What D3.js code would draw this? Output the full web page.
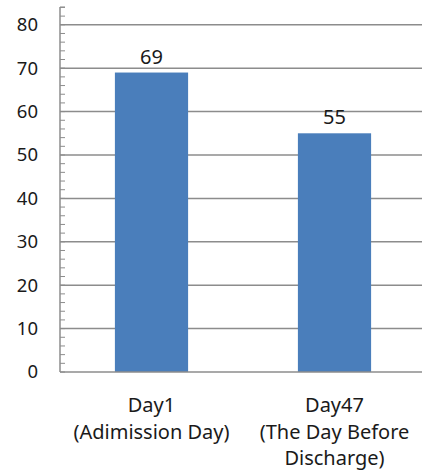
<!DOCTYPE html>
<html><head><meta charset="utf-8">
<script src="https://cdn.jsdelivr.net/npm/d3@7"></script>
<style>body{margin:0;background:#fff;} text{font-family:"Noto Sans","Open Sans",sans-serif;fill:#1a1a1a;}</style>
</head><body>
<svg id="c" width="422" height="472"></svg>
<script>
const categories = [["Day1","(Adimission Day)"],["Day47","(The Day Before","Discharge)"]];
const values = [69, 55];
const yTicks = [0,10,20,30,40,50,60,70,80];
const minorTicks = d3.range(0, 85, 2);

(function(){
const svg = d3.select("#c");
const pLeft = 60, pRight = 426, pTop = 7, pBottom = 372;
const y = d3.scaleLinear().domain([0, 84.1]).range([pBottom, pTop]);
const x = d3.scaleBand().domain(d3.range(values.length)).range([pLeft, pRight]).paddingInner(0.6).paddingOuter(0.3);

svg.append("g").selectAll("line").data(yTicks.filter(d=>d>0)).join("line")
  .attr("x1", pLeft).attr("x2", 422).attr("y1", d=>y(d)).attr("y2", d=>y(d))
  .attr("stroke", "#8c8c8c").attr("stroke-width", 1.5);

svg.append("g").selectAll("rect").data(values).join("rect")
  .attr("x", (d,i)=>x(i)).attr("width", x.bandwidth())
  .attr("y", d=>y(d)).attr("height", d=>pBottom - y(d))
  .attr("fill", "#4a7ebb");

svg.append("g").selectAll("text").data(values).join("text")
  .attr("x", (d,i)=>x(i)+x.bandwidth()/2).attr("y", d=>y(d)-9)
  .attr("text-anchor","middle").attr("font-size", 20).text(d=>d);

svg.append("line").attr("x1", pLeft).attr("x2", 422).attr("y1", pBottom).attr("y2", pBottom)
  .attr("stroke", "#8c8c8c").attr("stroke-width", 1.5);

const ax = svg.append("g");
ax.append("line").attr("x1", pLeft).attr("x2", pLeft).attr("y1", pTop).attr("y2", pBottom)
  .attr("stroke", "#8c8c8c").attr("stroke-width", 1.5);
ax.selectAll("line.m").data(minorTicks).join("line").attr("class","m")
  .attr("x1", pLeft).attr("x2", pLeft+5).attr("y1", d=>y(d)).attr("y2", d=>y(d))
  .attr("stroke", "#8c8c8c").attr("stroke-width", 1);
ax.append("line").attr("x1", pLeft).attr("x2", pLeft+5).attr("y1", pTop).attr("y2", pTop)
  .attr("stroke", "#8c8c8c").attr("stroke-width", 1);
ax.selectAll("text").data(yTicks).join("text")
  .attr("x", 38).attr("y", d=>y(d)).attr("dy", "0.35em")
  .attr("text-anchor","end").attr("font-size", 18.5).text(d=>d);

const cg = svg.append("g").selectAll("text").data(categories).join("text")
  .attr("x", (d,i)=>x(i)+x.bandwidth()/2).attr("y", 412)
  .attr("text-anchor","middle").attr("font-size", 20);
cg.selectAll("tspan").data(d=>d).join("tspan")
  .attr("x", function(){return this.parentNode.getAttribute("x");})
  .attr("dy", (d,i)=>i===0?0:26.5).text(d=>d);
})();
</script>
</body></html>
